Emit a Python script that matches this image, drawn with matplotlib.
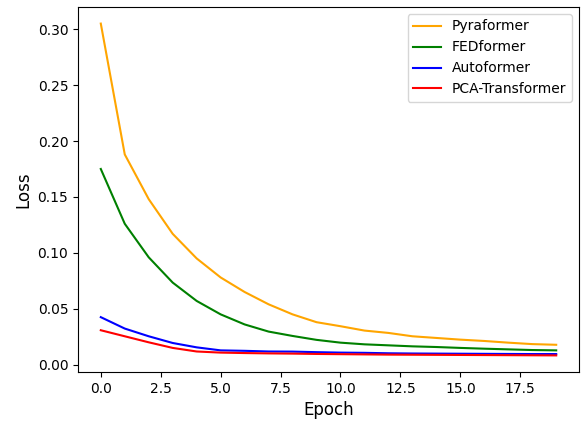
import matplotlib
matplotlib.use("Agg")
import matplotlib.pyplot as plt

epochs = list(range(20))
pyraformer = [0.305, 0.188, 0.148, 0.117, 0.095, 0.078, 0.065, 0.054, 0.045, 0.038,
              0.0344, 0.0305, 0.0284, 0.0254, 0.0239, 0.0224, 0.0212, 0.0197, 0.0184, 0.0178]
fedformer = [0.175, 0.126, 0.096, 0.0734, 0.057, 0.045, 0.036, 0.0296, 0.0257, 0.0222,
             0.0197, 0.0182, 0.0173, 0.0164, 0.0158, 0.0150, 0.0143, 0.0137, 0.0131, 0.0128]
autoformer = [0.0425, 0.0323, 0.0254, 0.0194, 0.0155, 0.0128, 0.0124, 0.0118, 0.0117, 0.0112,
              0.0108, 0.0106, 0.0102, 0.0100, 0.0099, 0.0098, 0.0097, 0.0096, 0.0095, 0.0095]
pca_transformer = [0.0308, 0.0254, 0.0200, 0.0150, 0.0118, 0.0108, 0.0104, 0.0101, 0.0099, 0.0096,
                   0.0094, 0.0092, 0.0090, 0.0089, 0.0088, 0.0087, 0.0086, 0.0085, 0.0084, 0.0083]

fig = plt.figure(figsize=(5.84, 4.21), dpi=100)
ax = fig.add_axes([0.1336, 0.1164, 0.8578, 0.867])
ax.plot(epochs, pyraformer, color="orange", label="Pyraformer")
ax.plot(epochs, fedformer, color="green", label="FEDformer")
ax.plot(epochs, autoformer, color="blue", label="Autoformer")
ax.plot(epochs, pca_transformer, color="red", label="PCA-Transformer")
ax.set_xlabel("Epoch", fontsize=12)
ax.set_ylabel("Loss", fontsize=12)
ax.legend(loc="upper right")
fig.savefig("out.png", dpi=100)
